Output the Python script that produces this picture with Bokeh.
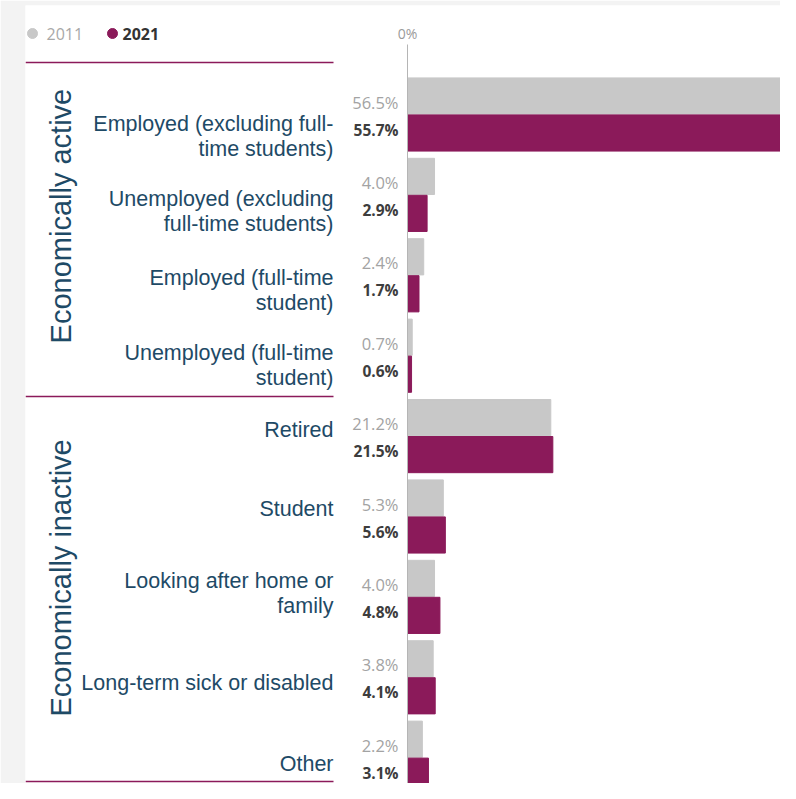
import math
from bokeh.plotting import figure
from bokeh.models import ColumnDataSource, Range1d
from bokeh.core.properties import value
from bokeh.embed import file_html
from bokeh.resources import INLINE

# ---------------- data ----------------
categories = [
    "Employed (excluding full-\ntime students)",
    "Unemployed (excluding\nfull-time students)",
    "Employed (full-time\nstudent)",
    "Unemployed (full-time\nstudent)",
    "Retired",
    "Student",
    "Looking after home or\nfamily",
    "Long-term sick or disabled",
    "Other",
]
groups = ["Economically active", "Economically inactive"]
group_sizes = [4, 5]
series = ["2011", "2021"]
values_2011 = [56.5, 4.0, 2.4, 0.7, 21.2, 5.3, 4.0, 3.8, 2.2]
values_2021 = [55.7, 2.9, 1.7, 0.6, 21.5, 5.6, 4.8, 4.1, 3.1]

# ---------------- layout / style ----------------
W, H = 780, 783
ZERO_PX = 407.0        # x of the 0% line
PX_PER_PCT = 6.76
ROW0_PX = 114.0        # y of first row centre
ROW_STEP = 80.4
PANEL_LEFT = 25
PANEL_TOP = 5
LABEL_DY = [21.5, 16.5, 15.5, 10, -6, -8, -3, 6, 6]
LINE_H = 25
GREY = "#c8c8c8"
PURPLE = "#8b1a5a"
TXT = "#1e4a66"

def px(xp):
    return (xp - ZERO_PX) / PX_PER_PCT

def py(yp):
    return (yp - ROW0_PX) / ROW_STEP

p = figure(width=W, height=H, output_backend="svg", toolbar_location=None,
           x_range=Range1d(px(PANEL_LEFT), px(W)),
           y_range=Range1d(py(H), py(PANEL_TOP)),
           min_border_left=PANEL_LEFT, min_border_right=0,
           min_border_top=PANEL_TOP, min_border_bottom=0)
p.axis.visible = False
p.grid.visible = False
p.outline_line_color = None
p.background_fill_color = "white"
p.border_fill_color = "#f3f3f3"

n = len(categories)
idx = list(range(n))

# bars
OFF, BH = 0.23, 0.45
src11 = ColumnDataSource(dict(y=[i - OFF for i in idx], v=values_2011,
                              lab=[f"{v:.1f}%" for v in values_2011],
                              ty=[i - 12.5 / ROW_STEP for i in idx]))
src21 = ColumnDataSource(dict(y=[i + OFF for i in idx], v=values_2021,
                              lab=[f"{v:.1f}%" for v in values_2021],
                              ty=[i + 15 / ROW_STEP for i in idx]))
p.hbar(y="y", left=0, right="v", height=BH, color=GREY, source=src11)
p.hbar(y="y", left=0, right="v", height=BH, color=PURPLE, source=src21)

# axis line and 0%
p.segment(x0=[0], y0=[py(44)], x1=[0], y1=[py(800)], line_color="#b5b5b5", line_width=1)
p.text(x=[0], y=[py(33)], text=["0%"], text_align="center", text_baseline="middle",
       text_font=value("Open Sans"), text_font_size="14px", text_color="#9a9a9a")

# value labels
vx = -9 / PX_PER_PCT
p.text(x=vx, y="ty", text="lab", source=src11, text_align="right", text_baseline="middle",
       text_font=value("Open Sans"), text_font_size="16.5px", text_color="#a3a3a3")
p.text(x=vx, y="ty", text="lab", source=src21, text_align="right", text_baseline="middle",
       text_font=value("Open Sans"), text_font_size="15.5px", text_font_style="bold",
       text_color="#3d3d3d")

# category labels (split into lines)
lx, ly, lt = [], [], []
for i, c in enumerate(categories):
    lines = c.split("\n")
    k = len(lines)
    for j, t in enumerate(lines):
        lx.append(px(333))
        ly.append(i + (LABEL_DY[i] + (j - (k - 1) / 2) * LINE_H) / ROW_STEP)
        lt.append(t)
p.text(x=lx, y=ly, text=lt, text_align="right", text_baseline="middle",
       text_font=value("Liberation Sans"), text_font_size="21.5px", text_color=TXT)

# group labels + dividers
gx, gy, gt = [], [], []
start = 0
for g, s in zip(groups, group_sizes):
    gx.append(px(60))
    gy.append((start + start + s - 1) / 2 - 19 / ROW_STEP)
    gt.append(g)
    start += s
p.text(x=gx, y=gy, text=gt, angle=math.pi / 2, text_align="center", text_baseline="middle",
       text_font=value("Liberation Sans"), text_font_size="29px", text_color=TXT)

div_y = [py(62), py(396), py(781)]
p.segment(x0=[px(PANEL_LEFT)] * 3, y0=div_y, x1=[px(333)] * 3, y1=div_y,
          line_color=PURPLE, line_width=1.5)

# legend
p.scatter(x=[px(32), px(112)], y=[py(33)] * 2, size=10, color=[GREY, PURPLE])
p.text(x=[px(46)], y=[py(33)], text=[series[0]], text_baseline="middle",
       text_font=value("Open Sans"), text_font_size="16px", text_color="#a8a8a8")
p.text(x=[px(122)], y=[py(33)], text=[series[1]], text_baseline="middle",
       text_font=value("Open Sans"), text_font_size="16px", text_font_style="bold",
       text_color="#333333")

open("out.html", "w").write(file_html(p, INLINE))
